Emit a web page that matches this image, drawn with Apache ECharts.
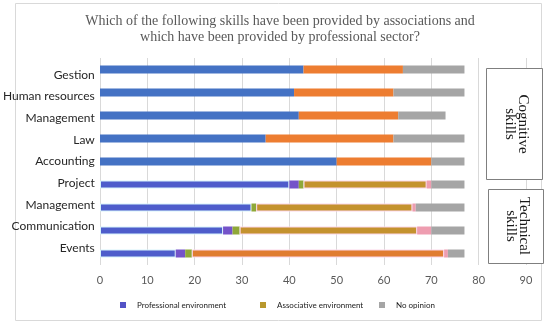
<!DOCTYPE html>
<html><head><meta charset="utf-8">
<script src="https://cdn.jsdelivr.net/npm/echarts@6/dist/echarts.min.js"></script>
<style>html,body{margin:0;padding:0;background:#fff;}#c{width:550px;height:325px;}</style>
</head><body><div id="c"></div>
<script>
// ---- data ----
const categories = ['Gestion', 'Human resources', 'Management', 'Law', 'Accounting', 'Project', 'Management', 'Communication', 'Events'];
const professional = [43, 41, 42, 35, 50, 40, 32, 26, 16];
const segPurple = [0, 0, 0, 0, 0, 2, 0, 2, 2];
const segGreen = [0, 0, 0, 0, 0, 1, 1, 1.5, 1.4];
const associative = [21, 21, 21, 27, 20, 26, 33, 37.5, 53.3];
const segPink = [0, 0, 0, 0, 0, 1, 0.7, 3, 0.8];
const noOpinion = [13, 15, 10, 15, 7, 7, 10.3, 7, 3.5];
const xMin = 0, xMax = 90, xStep = 10;
const titleLines = ['Which of the following skills have been provided by associations and', 'which have been provided by professional sector?'];
const groupLabels = ['Cognitive\nskills', 'Technical\nskills'];
const legendNames = ['Professional environment', 'Associative environment', 'No opinion'];

// ---- styles ----
const techStart = 5;
const C = {
  profTop: '#4472C4', profTech: '#4E5DCB', profLegend: '#5353C6',
  assocTop: '#ED7D31', assocTech: '#C4922E', assocEvents: '#E07D30', assocLegend: '#B8982E',
  purple: '#7453C9', green: '#8FA838', pink: '#EE9DB0', gray: '#A5A5A5'
};
function profData() {
  return professional.map((v, i) => ({ value: v, itemStyle: i < techStart ? { color: C.profTop } : { color: C.profTech, borderColor: '#d6f3fb', borderWidth: 1 } }));
}
function assocData() {
  return associative.map((v, i) => {
    if (i < techStart) return { value: v, itemStyle: { color: C.assocTop } };
    return { value: v, itemStyle: { color: i === categories.length - 1 ? C.assocEvents : C.assocTech, borderColor: '#fbd6e8', borderWidth: 1 } };
  });
}
const barW = 8;
function seg(name, data, color) {
  return { name, type: 'bar', stack: 'total', barWidth: barW, data, itemStyle: { color }, silent: true, xAxisIndex: 0, yAxisIndex: 0 };
}

const chart = echarts.init(document.getElementById('c'));
const font = 'Lato';
chart.setOption({
  animation: false,
  grid: [
    { left: 100, right: 24, top: 58, height: 207 },
    { left: 100, right: 24, top: 64, height: 195 }
  ],
  xAxis: [
    { type: 'value', gridIndex: 0, min: xMin, max: xMax, interval: xStep,
      axisLine: { show: false }, axisTick: { show: false },
      splitLine: { lineStyle: { color: '#d9d9d9', width: 1 } },
      axisLabel: { color: '#595959', fontSize: 11, fontFamily: font, margin: 10 } },
    { type: 'value', gridIndex: 1, min: xMin, max: xMax, show: false }
  ],
  yAxis: [
    { type: 'category', gridIndex: 0, data: categories, inverse: true,
      axisLine: { show: false }, axisTick: { show: false }, axisLabel: { show: false } },
    { type: 'category', gridIndex: 1, data: categories, inverse: true,
      axisLine: { show: false }, axisTick: { show: false }, splitLine: { show: false },
      axisLabel: { color: '#262626', fontSize: 12, fontFamily: font, margin: 14 } }
  ],
  legend: [
    { data: [legendNames[0]], left: 115, top: 296 },
    { data: [legendNames[1]], left: 255, top: 296 },
    { data: [legendNames[2]], left: 374, top: 296 }
  ].map(l => Object.assign(l, { icon: 'rect', itemWidth: 6, itemHeight: 6, selectedMode: false,
      textStyle: { fontSize: 8, color: '#1a1a1a', fontFamily: font, padding: [0, 0, 0, 6] } })),
  series: [
    seg(legendNames[0], profData(), C.profLegend),
    seg('purple', segPurple, C.purple),
    seg('green', segGreen, C.green),
    seg(legendNames[1], assocData(), C.assocLegend),
    seg('pink', segPink, C.pink),
    seg(legendNames[2], noOpinion, C.gray)
  ],
  graphic: [
    { type: 'rect', shape: { x: 15.5, y: 3.5, width: 526, height: 317 }, style: { fill: 'none', stroke: '#d9d9d9', lineWidth: 1 }, z: -1 },
    { type: 'text', x: 280, y: 13, style: { text: titleLines.join('\n'), fill: '#595959', font: '14px "Liberation Serif"', textAlign: 'center', lineHeight: 16 } },
    { type: 'rect', shape: { x: 486.5, y: 68.5, width: 56, height: 111 }, style: { fill: '#fff', stroke: '#7f7f7f', lineWidth: 1 }, z: 10 },
    { type: 'rect', shape: { x: 488.5, y: 189.5, width: 55, height: 74 }, style: { fill: '#fff', stroke: '#7f7f7f', lineWidth: 1 }, z: 10 },
    { type: 'text', x: 516, y: 124, rotation: -Math.PI / 2, z: 11, style: { text: groupLabels[0], fill: '#1a1a1a', font: '15px "Liberation Serif"', textAlign: 'center', textVerticalAlign: 'middle', lineHeight: 13 } },
    { type: 'text', x: 517, y: 226, rotation: -Math.PI / 2, z: 11, style: { text: groupLabels[1], fill: '#1a1a1a', font: '15px "Liberation Serif"', textAlign: 'center', textVerticalAlign: 'middle', lineHeight: 13 } }
  ]
});
</script></body></html>
